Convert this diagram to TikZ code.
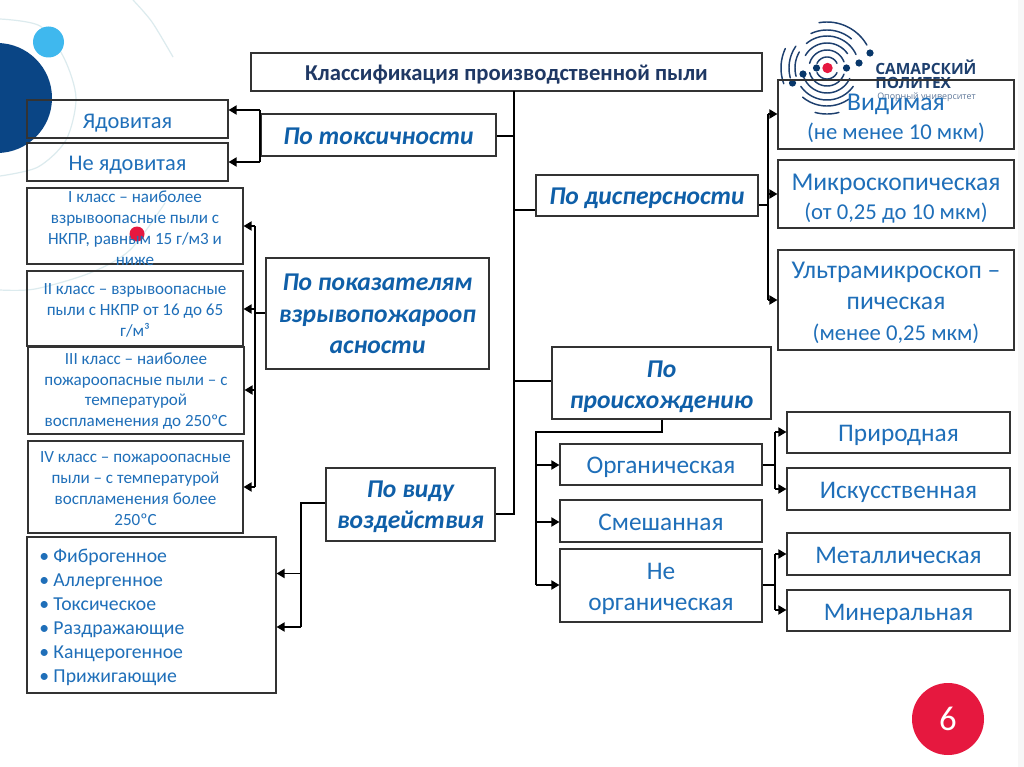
\documentclass[tikz,border=0pt]{standalone}
\usepackage{fontspec}
\setmainfont{Carlito}
\newfontfamily\logofont{Open Sans}
\usetikzlibrary{arrows.meta}
\definecolor{txtblue}{HTML}{1F6FB9}
\definecolor{catblue}{HTML}{0F5FA8}
\definecolor{navy}{HTML}{1F3864}
\definecolor{edgegray}{HTML}{333333}
\definecolor{dotnavy}{HTML}{0A4585}
\definecolor{skyb}{HTML}{3FB8EE}
\definecolor{redd}{HTML}{E6183F}
\definecolor{arcpale}{HTML}{DCEBEE}
\definecolor{logonavy}{HTML}{1D3F6E}
\tikzset{
  x=0.75pt,y=-0.75pt,
  boxn/.style={draw=edgegray,line width=0.85pt,inner sep=0pt},
  txt/.style={inner sep=0pt,align=center,text=txtblue},
  big/.style={txt,font=\fontsize{19}{23.5}\selectfont},
  small/.style={txt,font=\fontsize{12.8}{15.8}\selectfont},
  list/.style={txt,font=\fontsize{14.8}{18}\selectfont,align=left,text width=177pt,inner xsep=4.5pt},
  cat/.style={txt,font=\fontsize{19.2}{23.5}\selectfont\bfseries\itshape,text=catblue},
  ttl/.style={txt,font=\fontsize{17}{20}\selectfont\bfseries,text=navy},
  wire/.style={draw=black,line width=1.2pt},
  arr/.style={wire,-{Triangle[length=6pt,width=6.8pt]}},
  pale/.style={draw=arcpale,line width=0.9pt},
  lgarc/.style={draw=logonavy,line width=1.1pt,line cap=round}
}
% name, x0, y0, x1, y1, text style, downward text shift in px, text
\newcommand{\bx}[8]{%
  \pgfmathsetmacro{\cxx}{(#2+#4)/2}%
  \pgfmathsetmacro{\cyy}{(#3+#5)/2}%
  \pgfmathsetmacro{\wxx}{(#4-#2)*0.75}%
  \pgfmathsetmacro{\hxx}{(#5-#3)*0.75}%
  \node[boxn,minimum width=\wxx pt,minimum height=\hxx pt] (#1) at (\cxx,\cyy) {};
  \node[#6] (#1t) at (\cxx,\cyy+#7) {#8};}
\newcommand{\lgarc}[3]{\draw[lgarc] plot[domain=#2:#3,samples=24,smooth] ({827+#1*cos(\x)},{68-#1*sin(\x)});}
\newcommand{\lit}[1]{\hspace*{4.5pt}\makebox[10.5pt][l]{•}#1}
\begin{document}
\begin{tikzpicture}
\useasboundingbox (0,0) rectangle (1024,767);
\fill[white] (0,0) rectangle (1024,767);
\fill[black!3] (1018,0) rectangle (1024,767);
\begin{scope}
\clip (0,0) rectangle (1024,767);
\draw[pale] plot[smooth] coordinates {(0,19) (40,26) (64,58) (76,98) (66,140) (38,167) (0,176)};
\draw[pale] plot[smooth] coordinates {(133,0) (152,22) (173,57)};
\draw[pale] plot[smooth] coordinates {(165,203) (130,250) (90,273) (35,289) (0,290)};
\fill[dotnavy] (-3,98) circle[radius=55];
\fill[skyb] (48.5,42) circle[radius=15.5];
\end{scope}
\fill[redd] (137,234) circle[radius=7.5];
% logo
\lgarc{11}{25}{155}\lgarc{11}{205}{335}
\lgarc{18}{20}{165}\lgarc{18}{195}{340}
\lgarc{25}{35}{150}\lgarc{25}{200}{335}
\lgarc{32}{25}{130}\lgarc{32}{150}{195}\lgarc{32}{215}{325}
\lgarc{38}{50}{115}\lgarc{38}{145}{195}\lgarc{38}{230}{305}
\lgarc{46}{30}{100}\lgarc{46}{155}{200}\lgarc{46}{255}{285}
\foreach \px/\py in {816.5/68,846.5/68,803/74,859/63,792.5/83,870/53}
  \fill[dotnavy!80!black] (\px,\py) circle[radius=3.6];
\fill[redd] (827.5,68) circle[radius=5.2];
\node[anchor=west,inner sep=0pt,text=logonavy,font=\logofont\fontsize{11.6}{12}\selectfont\bfseries] (lg1) at (875,67) {САМАРСКИЙ};
\node[anchor=west,inner sep=0pt,text=logonavy,font=\logofont\fontsize{11.6}{12}\selectfont\bfseries] (lg2) at (875,83) {ПОЛИТЕХ};
\node[anchor=west,inner sep=0pt,text=logonavy!70,font=\logofont\fontsize{6.7}{8}\selectfont] (lg3) at (877,97) {Опорный университет};
% boxes
\bx{title}{251}{53}{762}{91}{ttl}{3}{Классификация производственной пыли}
\bx{yad}{27}{100}{228}{138}{big,font=\fontsize{16.8}{20}\selectfont}{4}{Ядовитая}
\bx{neyad}{27}{143}{228}{181}{big,font=\fontsize{16.8}{20}\selectfont}{3}{Не ядовитая}
\bx{c1}{27}{188}{243}{264}{small}{2}{I класс – наиболее\\взрывоопасные пыли с\\НКПР, равным 15 г/м3 и\\ниже}
\bx{c2}{27}{271}{243}{346}{small}{2}{II класс – взрывоопасные\\пыли с НКПР от 16 до 65\\г/м³}
\bx{c3}{28}{347}{244}{434}{small,font=\fontsize{12.8}{15.4}\selectfont}{0.5}{III класс – наиболее\\пожароопасные пыли – с\\температурой\\воспламенения до 250ºС}
\bx{c4}{28}{441}{243}{533}{small}{1.5}{IV класс – пожароопасные\\пыли – с температурой\\воспламенения более\\250ºС}
\bx{eff}{27}{537}{276}{693}{list}{2}{\lit{Фиброгенное}\\\lit{Аллергенное}\\\lit{Токсическое}\\\lit{Раздражающие}\\\lit{Канцерогенное}\\\lit{Прижигающие}}
\bx{tox}{261}{114}{496}{156}{cat}{1}{По токсичности}
\bx{expl}{266}{258}{489}{369}{cat}{0.5}{По показателям\\взрывопожарооп\\асности}
\bx{act}{326}{468}{495}{541}{cat}{2.5}{По виду\\воздействия}
\bx{disp}{536}{175}{758}{216}{cat}{3}{По дисперсности}
\bx{orig}{552}{347}{771}{419}{cat}{4}{По\\происхождению}
\bx{vis}{778}{80}{1014}{149}{big,font=\fontsize{19.2}{22}\selectfont}{4}{Видимая\\{\fontsize{17}{22}\selectfont (не менее 10 мкм)}}
\bx{mic}{778}{160}{1014}{228}{big,font=\fontsize{19.2}{22}\selectfont}{4.5}{Микроскопическая\\{\fontsize{17}{22}\selectfont (от 0,25 до 10 мкм)}}
\bx{ult}{778}{250}{1014}{350}{big,font=\fontsize{19.2}{23}\selectfont}{3}{Ультрамикроскоп –\\пическая\\{\fontsize{17}{22}\selectfont (менее 0,25 мкм)}}
\bx{org}{560}{444}{762}{485}{big}{3}{Органическая}
\bx{mix}{560}{500}{762}{542}{big}{1}{Смешанная}
\bx{nor}{560}{549}{762}{622}{big}{3.5}{Не\\органическая}
\bx{nat}{787}{412}{1010}{453}{big}{3}{Природная}
\bx{art}{787}{468}{1010}{510}{big}{3}{Искусственная}
\bx{met}{787}{533}{1010}{575}{big}{1}{Металлическая}
\bx{min}{787}{590}{1010}{631}{big}{4}{Минеральная}
% number badge
\node[circle,fill=redd,minimum size=54pt,inner sep=0pt,text=white,font=\fontsize{26}{28}\selectfont] (num) at (948,719) {6};
% trunk
\coordinate (ttop) at (514,91);
\coordinate (tbot) at (514,514);
\draw[wire] (ttop) -- (tbot) -- (tbot -| act.east);
\coordinate (jtox) at (514,136);
\coordinate (jdisp) at (514,210);
\coordinate (jorig) at (514,381);
\draw[wire] (jtox) -- (jtox -| tox.east);
\draw[wire] (jdisp) -- (jdisp -| disp.west);
\draw[wire] (jorig) -- (jorig -| orig.west);
% toxicity
\coordinate (tx1) at (260,110);
\coordinate (tx2) at (260,162);
\draw[wire] (tx1) -- (tx2);
\draw[arr] (tx1) -- (tx1 -| yad.east);
\draw[arr] (tx2) -- (tx2 -| neyad.east);
% explosive
\coordinate (e1) at (255,226);
\coordinate (e2) at (255,309);
\coordinate (e3) at (255,390);
\coordinate (e4) at (255,487);
\coordinate (e0) at (255,313);
\draw[wire] (e1) -- (e4);
\draw[wire] (e0) -- (e0 -| expl.west);
\draw[arr] (e1) -- (e1 -| c1.east);
\draw[arr] (e2) -- (e2 -| c2.east);
\draw[arr] (e3) -- (e3 -| c3.east);
\draw[arr] (e4) -- (e4 -| c4.east);
% action
\coordinate (a0) at (301,503);
\coordinate (a1) at (301,573.5);
\coordinate (a2) at (301,627);
\draw[wire] (a0 -| act.west) -- (a0) -- (a2);
\draw[arr] (a1) -- (a1 -| eff.east);
\draw[arr] (a2) -- (a2 -| eff.east);
% dispersity
\coordinate (d0) at (768,205);
\coordinate (d1) at (768,114);
\coordinate (d2) at (768,194);
\coordinate (d3) at (768,300);
\draw[wire] (d0 -| disp.east) -- (d0);
\draw[wire] (d1) -- (d3);
\draw[arr] (d1) -- (d1 -| vis.west);
\draw[arr] (d2) -- (d2 -| mic.west);
\draw[arr] (d3) -- (d3 -| ult.west);
% origin
\coordinate (o0) at (662,432);
\coordinate (o1) at (536,432);
\coordinate (o2) at (536,465);
\coordinate (o3) at (536,522);
\coordinate (o4) at (536,585);
\draw[wire] (orig.south -| o0) -- (o0) -- (o1) -- (o4);
\draw[arr] (o2) -- (o2 -| org.west);
\draw[arr] (o3) -- (o3 -| mix.west);
\draw[arr] (o4) -- (o4 -| nor.west);
% organic
\coordinate (g0) at (775,465);
\coordinate (g1) at (775,432);
\coordinate (g2) at (775,489);
\draw[wire] (g0 -| org.east) -- (g0);
\draw[wire] (g1) -- (g2);
\draw[arr] (g1) -- (g1 -| nat.west);
\draw[arr] (g2) -- (g2 -| art.west);
% inorganic
\coordinate (n0) at (775,585);
\coordinate (n1) at (775,554);
\coordinate (n2) at (775,610);
\draw[wire] (n0 -| nor.east) -- (n0);
\draw[wire] (n1) -- (n2);
\draw[arr] (n1) -- (n1 -| met.west);
\draw[arr] (n2) -- (n2 -| min.west);
\end{tikzpicture}
\end{document}
